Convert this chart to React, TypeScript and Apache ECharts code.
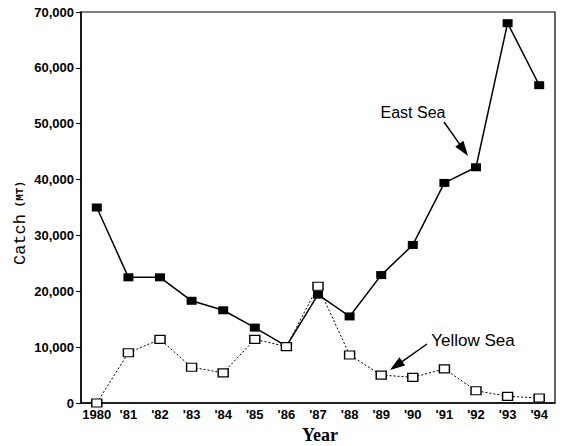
import React, { useEffect, useRef } from "react";
import * as echarts from "echarts";

const years = ["1980", "'81", "'82", "'83", "'84", "'85", "'86", "'87", "'88", "'89", "'90", "'91", "'92", "'93", "'94"];
const eastSea = [35000, 22500, 22500, 18300, 16600, 13500, 10200, 19400, 15500, 22900, 28300, 39400, 42200, 68000, 56900];
const yellowSea = [0, 9000, 11400, 6400, 5400, 11400, 10100, 20900, 8600, 5000, 4600, 6100, 2200, 1200, 900];
const yTicks = { min: 0, max: 70000, interval: 10000 };

function arrow(x1: number, y1: number, x2: number, y2: number, head = 15, half = 5) {
  const dx = x2 - x1;
  const dy = y2 - y1;
  const len = Math.sqrt(dx * dx + dy * dy);
  const ux = dx / len;
  const uy = dy / len;
  const bx = x2 - ux * head;
  const by = y2 - uy * head;
  const px = -uy * half;
  const py = ux * half;
  return [
    { type: "line", shape: { x1, y1, x2: bx + ux * 2, y2: by + uy * 2 }, style: { stroke: "#000", lineWidth: 1.5 } },
    {
      type: "polygon",
      shape: { points: [[x2, y2], [bx + px, by + py], [bx - px, by - py]] },
      style: { fill: "#000" },
    },
  ];
}

export default function App() {
  const ref = useRef<HTMLDivElement>(null);
  useEffect(() => {
    if (!ref.current) return;
    const chart = echarts.init(ref.current, null, { renderer: "svg" });
    const labelFont = { color: "#000", fontFamily: "Liberation Sans, Arial, sans-serif", fontWeight: "bold" as const, fontSize: 13 };
    chart.setOption({
      animation: false,
      backgroundColor: "#fff",
      grid: { left: 81, right: 7, top: 12, bottom: 43, show: true, borderColor: "#000", borderWidth: 1.2 },
      xAxis: {
        type: "category",
        data: years,
        boundaryGap: true,
        axisLine: { lineStyle: { color: "#000", width: 1.5 } },
        axisTick: { alignWithLabel: true, length: 4, lineStyle: { color: "#000" } },
        axisLabel: { ...labelFont, margin: 5, interval: 0 },
        splitLine: { show: false },
      },
      yAxis: {
        type: "value",
        min: yTicks.min,
        max: yTicks.max,
        interval: yTicks.interval,
        axisLine: { show: true, lineStyle: { color: "#000", width: 1.5 } },
        axisTick: { show: true, length: 5, lineStyle: { color: "#000" } },
        axisLabel: {
          ...labelFont,
          margin: 7,
          formatter: (v: number) => v.toLocaleString("en-US"),
        },
        splitLine: { show: false },
      },
      series: [
        {
          name: "East Sea",
          type: "line",
          data: eastSea,
          symbol: "rect",
          symbolSize: [10, 8],
          itemStyle: { color: "#000" },
          lineStyle: { color: "#000", width: 1.5 },
          z: 3,
        },
        {
          name: "Yellow Sea",
          type: "line",
          data: yellowSea,
          symbol: "rect",
          symbolSize: [10, 8],
          itemStyle: { color: "#fff", borderColor: "#000", borderWidth: 1.3 },
          lineStyle: { color: "#000", width: 1, type: [2, 2] },
          z: 4,
        },
      ],
      graphic: [
        {
          type: "text",
          x: 20,
          y: 223,
          rotation: Math.PI / 2,
          style: {
            text: "{a|Catch}  {b|(MT)}",
            rich: {
              a: { fontFamily: "Liberation Mono, Courier New, monospace", fontSize: 17, fill: "#000" },
              b: { fontFamily: "Liberation Mono, Courier New, monospace", fontSize: 11, fill: "#000", fontWeight: "bold" },
            },
            align: "center",
            verticalAlign: "middle",
          },
        },
        {
          type: "text",
          x: 320,
          y: 435,
          style: {
            text: "Year",
            fontFamily: "Liberation Serif, Times New Roman, serif",
            fontSize: 18,
            fontWeight: "bold",
            fill: "#000",
            align: "center",
            verticalAlign: "middle",
          },
        },
        {
          type: "text",
          x: 413,
          y: 112,
          style: {
            text: "East Sea",
            fontFamily: "Liberation Sans, Arial, sans-serif",
            fontSize: 16,
            fill: "#000",
            align: "center",
            verticalAlign: "middle",
          },
        },
        {
          type: "text",
          x: 473,
          y: 340,
          style: {
            text: "Yellow Sea",
            fontFamily: "Liberation Sans, Arial, sans-serif",
            fontSize: 17,
            fill: "#000",
            align: "center",
            verticalAlign: "middle",
          },
        },
        ...arrow(444, 122, 468, 156),
        ...arrow(427, 344, 390, 370),
      ],
    });
    return () => chart.dispose();
  }, []);
  return <div ref={ref} style={{ width: 562, height: 446, position: "absolute", left: 0, top: 0 }} />;
}
